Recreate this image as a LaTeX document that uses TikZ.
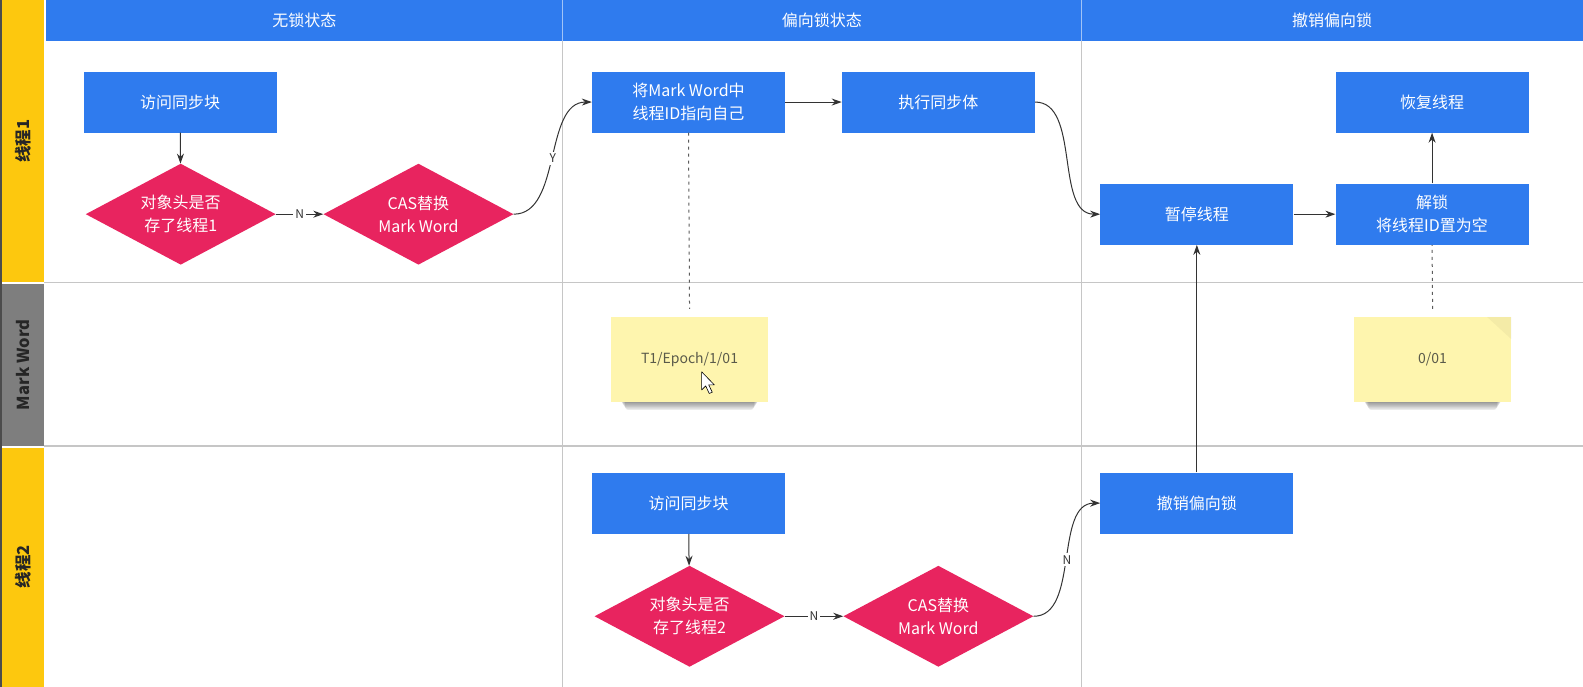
\documentclass[tikz,border=0pt]{standalone}
\usepackage{fontspec}
\setmainfont{Noto Sans CJK SC}
\usetikzlibrary{shapes.geometric, arrows.meta, calc}

\definecolor{hdrblue}{HTML}{2F7BEE}
\definecolor{boxblue}{HTML}{2F7BEE}
\definecolor{decpink}{HTML}{E8245F}
\definecolor{laneyellow}{HTML}{FDC80E}
\definecolor{lanegray}{HTML}{7E7E7E}
\definecolor{notefill}{HTML}{FEF5AE}
\definecolor{gridgray}{HTML}{C6C6C6}
\definecolor{wiregray}{HTML}{333333}
\definecolor{notetext}{HTML}{5A5A4A}

\newcommand\txtbox{\fontsize{16}{23}\selectfont}
\newcommand\txtlane{\fontsize{16.5}{20}\selectfont\bfseries}
\newcommand\txtnote{\fontsize{14}{17}\selectfont}
\newcommand\txtlbl{\fontsize{12}{14}\selectfont}

\begin{document}
\begin{tikzpicture}[x=1.0096pt, y=-1.0103pt,
  hdr/.style={text=white, font=\txtbox, inner sep=0pt},
  lanelabel/.style={rotate=90, font=\txtlane, text=black!85, inner sep=0pt},
  stepbox/.style={rectangle, fill=boxblue, text=white, minimum width=193pt,
    minimum height=61pt, font=\txtbox, align=center, inner sep=2pt},
  decision/.style={diamond, fill=decpink, text=white, minimum width=190pt,
    minimum height=101pt, aspect=1.88, inner sep=0pt, align=center, font=\txtbox},
  sticky/.style={rectangle, fill=notefill, minimum width=157pt, minimum height=85pt,
    font=\txtnote, text=notetext, inner sep=2pt},
  flow/.style={draw=wiregray, line width=1pt, -{Stealth[length=10pt,width=7pt]}},
  link/.style={draw=wiregray!80, line width=1pt, dash pattern=on 3pt off 4pt},
  lbl/.style={fill=white, inner sep=2pt, font=\txtlbl, text=wiregray}]

\useasboundingbox (0,0) rectangle (1568,680);
\fill[white] (0,0) rectangle (1568,680);

% swimlane bars on the left
\fill[laneyellow] (2,0) rectangle (44,279);
\fill[lanegray] (2,281) rectangle (44,441);
\fill[laneyellow] (2,443) rectangle (44,680);
\fill[black!70] (0,0) rectangle (2,680);
\node[lanelabel] (lane1) at (23,140) {线程1};
\node[lanelabel] (lanemw) at (23,361) {Mark Word};
\node[lanelabel] (lane2) at (23,561) {线程2};

% column header band
\fill[hdrblue] (46,0) rectangle (1568,41);
\draw[white!55!hdrblue, line width=1pt] (557,0) -- (557,41) (1071,0) -- (1071,41);
\node[hdr] (col1) at (301.5,20.5) {无锁状态};
\node[hdr] (col2) at (814,20.5) {偏向锁状态};
\node[hdr] (col3) at (1319.5,20.5) {撤销偏向锁};

% grid lines
\draw[gridgray, line width=1.3pt] (44,279.5) -- (1568,279.5) (44,441.5) -- (1568,441.5);
\draw[gridgray, line width=1.1pt] (557,41) -- (557,680) (1071,41) -- (1071,680);

% thread 1
\node[stepbox]  (b1) at (178.5,101) {访问同步块};
\node[decision] (d1) at (179,212) {对象头是否\\存了线程1};
\node[decision] (c1) at (414.5,212) {CAS替换\\Mark Word};
\node[stepbox]  (m1) at (682,101) {将Mark Word中\\线程ID指向自己};
\node[stepbox]  (e1) at (929.5,101) {执行同步体};
\node[stepbox]  (p1) at (1185.5,212) {暂停线程};
\node[stepbox]  (u1) at (1418.5,212) {解锁\\将线程ID置为空};
\node[stepbox]  (r1) at (1418.5,101) {恢复线程};

% mark word notes with soft shadows
\foreach \nx in {683,1419}{
  \foreach \k in {1,...,7}{
    \fill[black, opacity=0.08, rounded corners=3pt]
      (\nx-70+\k*0.9,394) rectangle (\nx+70-\k*0.9,396+\k*1.4);
  }
}
\node[sticky] (n1) at (683,356) {T1/Epoch/1/01};
\node[sticky] (n2) at (1419,356) {0/01};
\fill[black, opacity=0.04] (n2.north east) -- ++(-24,0) -- ($(n2.north east)+(0,22)$) -- cycle;

% mouse pointer resting on the first note
\draw[black, fill=white, line width=0.6pt, line join=round]
  (695,368) -- ++(0,18) -- ++(4,-4) -- ++(3.5,7.5) -- ++(3,-1.3) -- ++(-3.5,-7.2) -- ++(5.6,0) -- cycle;

% thread 2
\node[stepbox]  (b2) at (682,498) {访问同步块};
\node[decision] (d2) at (683,610) {对象头是否\\存了线程2};
\node[decision] (c2) at (929.5,610) {CAS替换\\Mark Word};
\node[stepbox]  (s2) at (1185.5,498) {撤销偏向锁};

% connectors
\draw[flow] (b1) -- (d1);
\draw[flow] (d1.east) -- node[lbl] {N} (c1.west);
\draw[flow] (c1.east) to[out=0, in=180, looseness=0.9] node[lbl, pos=0.5] {Y} (m1.west);
\draw[flow] (m1) -- (e1);
\draw[flow] (e1.east) to[out=0, in=180, looseness=0.9] (p1.west);
\draw[flow] (p1) -- (u1);
\draw[flow] (u1) -- (r1);
\draw[link] (m1.south) -- ($(n1.north)+(0,-8)$);
\draw[link] ($(n2.north)+(0,-8)$) -- (u1.south);

\draw[flow] (b2) -- (d2);
\draw[flow] (d2.east) -- node[lbl] {N} (c2.west);
\draw[flow] (c2.east) to[out=0, in=180, looseness=0.9] node[lbl, pos=0.5] {N} (s2.west);
\draw[flow] (s2) -- (p1);

\end{tikzpicture}
\end{document}
